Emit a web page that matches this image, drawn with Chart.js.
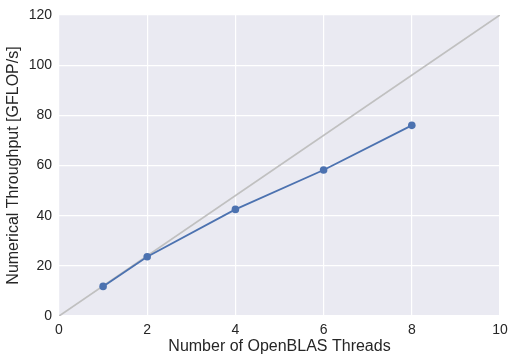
<!DOCTYPE html>
<html>
<head>
<meta charset="utf-8">
<script src="https://cdn.jsdelivr.net/npm/chart.js@4"></script>
<style>
html,body{margin:0;padding:0;background:#fff;}
#wrap{width:510px;height:356px;}
</style>
</head>
<body>
<div id="wrap"><canvas id="c" width="510" height="356"></canvas></div>
<script>
const threads = [1, 2, 4, 6, 8];
const throughput = [11.8, 23.6, 42.5, 58.2, 76.0];
const idealX = [0, 10];
const idealY = [0, 120];
const xTicks = [0, 2, 4, 6, 8, 10];
const yTicks = [0, 20, 40, 60, 80, 100, 120];

const bgPlugin = {
  id: 'bg',
  beforeDraw(chart) {
    const {ctx, chartArea: a} = chart;
    ctx.save();
    ctx.fillStyle = '#EAEAF2';
    ctx.fillRect(a.left, a.top, a.right - a.left, a.bottom - a.top);
    ctx.restore();
  }
};

new Chart(document.getElementById('c'), {
  type: 'scatter',
  data: {
    datasets: [
      {
        data: idealX.map((x, i) => ({x, y: idealY[i]})),
        showLine: true,
        borderColor: '#C0C0C0',
        borderWidth: 1.8,
        pointRadius: 0,
        order: 2
      },
      {
        data: threads.map((x, i) => ({x, y: throughput[i]})),
        showLine: true,
        borderColor: '#4C72B0',
        backgroundColor: '#4C72B0',
        borderWidth: 1.8,
        pointRadius: 3.8,
        pointBorderWidth: 0,
        order: 1
      }
    ]
  },
  options: {
    responsive: false,
    animation: false,
    layout: {padding: {top: 15, right: 10, left: 0, bottom: 0}},
    plugins: {legend: {display: false}, tooltip: {enabled: false}},
    scales: {
      x: {
        type: 'linear', min: 0, max: 10,
        afterBuildTicks(s) { s.ticks = xTicks.map(v => ({value: v})); },
        afterFit(s) { s.height = 40; s.paddingLeft = 0; s.paddingRight = 0; },
        border: {display: false},
        grid: {color: '#FFFFFF', lineWidth: 1.2, drawTicks: false},
        ticks: {color: '#262626', font: {family: 'Liberation Sans', size: 14}, padding: 6},
        title: {display: true, text: 'Number of OpenBLAS Threads', color: '#262626', font: {family: 'Liberation Sans', size: 16}, padding: {top: 0, bottom: 0}}
      },
      y: {
        type: 'linear', min: 0, max: 120,
        afterBuildTicks(s) { s.ticks = yTicks.map(v => ({value: v})); },
        afterFit(s) { s.width = 59; s.paddingTop = 0; s.paddingBottom = 0; },
        border: {display: false},
        grid: {color: '#FFFFFF', lineWidth: 1.2, drawTicks: false},
        ticks: {color: '#262626', font: {family: 'Liberation Sans', size: 14}, padding: 7},
        title: {display: true, text: 'Numerical Throughput [GFLOP/s]', color: '#262626', font: {family: 'Liberation Sans', size: 16}, padding: {top: 4, bottom: 0}}
      }
    }
  },
  plugins: [bgPlugin]
});
</script>
</body>
</html>
